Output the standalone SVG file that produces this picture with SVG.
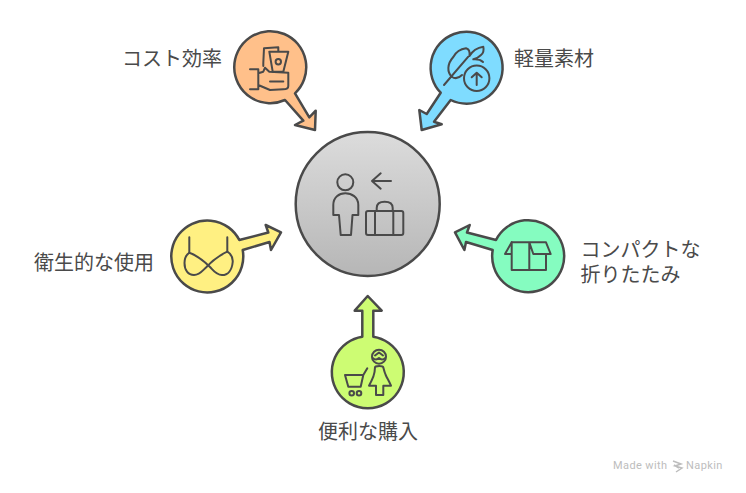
<svg xmlns="http://www.w3.org/2000/svg" width="746" height="493" viewBox="0 0 746 493">
<style>
.s{stroke:#4a4a4a;stroke-width:2.5;stroke-linejoin:round}
.i{fill:none;stroke:#4a4a4a;stroke-width:2;stroke-linejoin:round;stroke-linecap:round}
.t{font-family:"Noto Sans CJK JP","Noto Sans",sans-serif;font-size:20px;fill:#4a4a4a}
.w{font-family:Roboto,"Liberation Sans",sans-serif;font-size:11px;letter-spacing:.4px;fill:#bdbdbd}
</style>
<defs><linearGradient id="g" x1="0" y1="0" x2="0" y2="1"><stop offset="0" stop-color="#dcdcdc"/><stop offset="1" stop-color="#b6b6b6"/></linearGradient></defs>
<rect width="746" height="493" fill="#fff"/>
<g id="connectors">
<path id="c1" class="s" fill="#ffc08a" d="M285 100 L303.300 120.700 L295 125 L315 130 L315.700 110.700 L309.300 117.300 L295 93.300 A36 36 0 1 0 285 100Z"/>
<path id="c2" class="s" fill="#7fdcff" d="M440.700 92.700 L426.700 114 L419.300 110 L421.700 130 L441.700 124.300 L434 121.700 L450.700 100 A36 36 0 1 0 440.700 92.700Z"/>
<path id="c3" class="s" fill="#fff082" d="M239.300 240 L268.300 232.500 L265.700 225 L281 232.300 L271 250 L269.500 242 L242.700 250 A36 36 0 1 1 239.300 240Z"/>
<path id="c4" class="s" fill="#85fcc0" d="M496 240 L467 232.500 L469.700 225 L455 232.300 L464.400 250 L466 242 L492.700 250 A36 36 0 1 0 496 240Z"/>
<path id="c5" class="s" fill="#cdfc73" d="M362.300 336.700 L362.300 310.700 L354.700 310.700 L367.700 296 L381.700 310.700 L373.300 310.700 L373.300 336.700 A36 36 0 1 1 362.300 336.700Z"/>
</g>
<g id="center">
<circle cx="367.7" cy="204" r="72" fill="url(#g)" class="s"/>
<g class="i">
<circle cx="345.3" cy="182.300" r="8"/>
<path d="M333.300 215V205C333.300 197 339 193.300 345.300 193.300S358.300 197 358.300 205V215H352.500L351 235H340.700L339 215Z"/>
<path d="M391 181H372M380.700 173.300L372 181L380.700 188.700"/>
<rect x="366" y="211" width="37.300" height="24" rx="2"/>
<path d="M375 211V235M393.300 211V235M376.700 211V208Q376.700 201.700 384.700 201.700Q392.700 201.700 392.700 208V211"/>
</g>
</g>
<g id="node-cost">
<g class="i">
<path d="M263.300 66V63L264 48.300L278.300 47.300V51"/>
<path d="M269.300 51.700H288.300L283.300 71.700H272.700Z"/>
<circle cx="278.300" cy="61.700" r="2.700"/>
<path d="M250 69.300H258.300V89.300H250M258.300 73.300L263.300 71.700L265 67.700L269.300 71.700L288.300 72.700V86Q288.300 89.300 283.300 89.300L270 90L258.300 85"/>
<path d="M283.300 81.500L270 81.500"/>
</g>
</g>
<g id="node-light">
<g class="i">
<path d="M444 85L468.300 56.700"/>
<path d="M451.700 76.700C447 72 447 64 453.300 57C456 52 461 49 466 48.300C469 49 470 52 469.500 56C473 50 478 47.500 483.300 46.700C484 50 483.500 53 481 55C478 58 476 59 473.300 59.300C477 59 481 60 483 62"/>
<path d="M451.700 76.700C455 79 459 78 462 75"/>
<circle cx="476.700" cy="78.300" r="12.700"/>
<path d="M476.700 85V72.700M471.700 77.300L476.700 72.700L481.700 77.300"/>
</g>
</g>
<g id="node-hygiene">
<g class="i">
<path d="M189.300 237.300V252.700C198 256 203 260 210 267C213 270 216 275 222 275C228 275 232 270 232.700 262C233 258 231 254 227.300 251.700V237.300"/>
<path d="M227.300 251.700C218 256 213 260 206.500 267C203 270 200 275 194 275C188 275 184.500 270 184.500 263C184.500 258 186 255 189.300 252.700"/>
</g>
</g>
<g id="node-box">
<g class="i">
<path d="M511.700 242.300H546L550.700 254H533.300L529.300 242.300V270"/>
<path d="M511.700 242.300L505 254H511.700M511.700 242.300V270H546V254"/>
</g>
</g>
<g id="node-buy">
<g class="i">
<circle cx="379" cy="356.700" r="7"/>
<path d="M375 355.500L379 352.500L383 355.500M372.700 358C375 360 377 360 379 358C381 360 383 360 385.300 358"/>
<path d="M379.300 366C376 366 375 367 375 367.300C375 371 374.500 373 373.300 376.700C372 380 370.500 383 369 385.700H376V395H383.300V385.700H391C389 381 387 378 385.700 375C384.500 372 384 370 383.300 367.300C383 366.500 382 366 379.300 366Z"/>
<path d="M345 375H363.300L367.300 368.300M345 375L348.300 386.700H360.700L363.300 375"/>
<circle cx="351.700" cy="393.300" r="2.300"/>
<circle cx="359" cy="393.300" r="2.300"/>
</g>
</g>
<g id="labels">
<text class="t" x="122" y="66">コスト効率</text>
<text class="t" x="514" y="66">軽量素材</text>
<text class="t" x="34" y="270">衛生的な使用</text>
<text class="t" x="580.500" y="257">コンパクトな</text>
<text class="t" x="580.500" y="282">折りたたみ</text>
<text class="t" x="318" y="438.500">便利な購入</text>
</g>
<g id="watermark">
<text class="w" x="613" y="469">Made with</text>
<path d="M673 461L681 464L675 466L682 468L676 472M674 465L679 468" fill="none" stroke="#bdbdbd" stroke-width="1.500"/>
<text class="w" x="686" y="469">Napkin</text>
</g>
</svg>
